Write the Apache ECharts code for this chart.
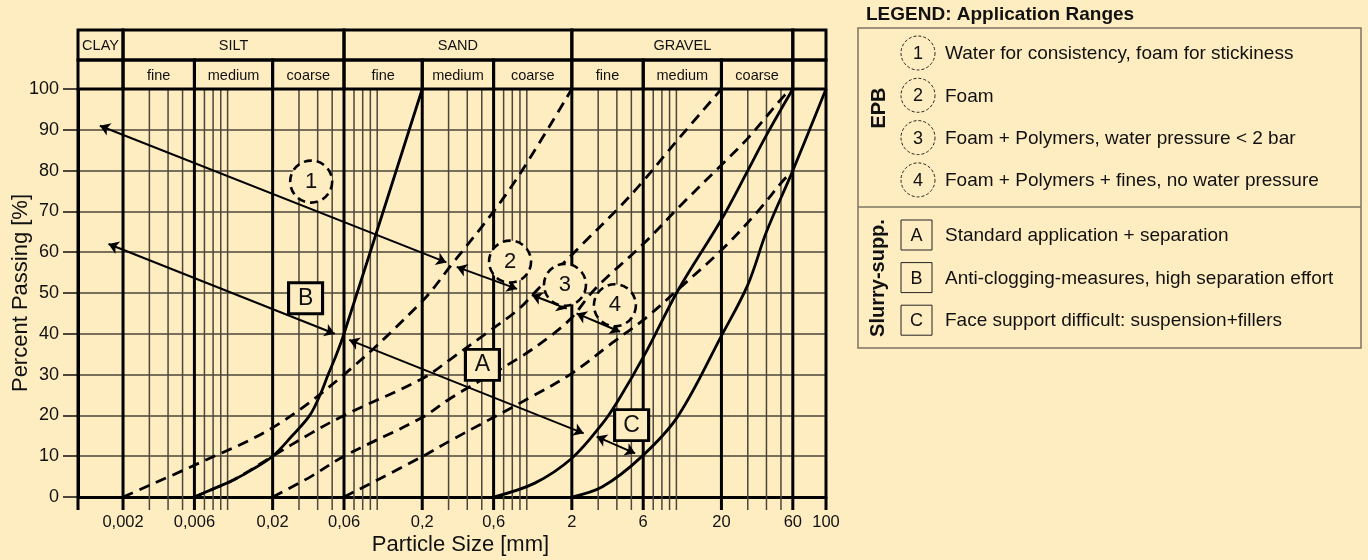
<!DOCTYPE html>
<html>
<head>
<meta charset="utf-8">
<script src="https://cdn.jsdelivr.net/npm/echarts@6/dist/echarts.min.js"></script>
<style>
html,body{margin:0;padding:0;background:#FFEDC2;}
#chart{width:1368px;height:560px;}
</style>
</head>
<body>
<div id="chart"></div>
<script>
// ---------- DATA ----------
// grading curves [particle size mm, percent passing]
const solidFine   = [[0.006,0],[0.0078,1.8],[0.0111,4.3],[0.0144,6.6],[0.02,10],[0.027,15],[0.0354,20],[0.0415,25],[0.047,30],[0.0535,35],[0.06,40],[0.2,100]];
const solidMid    = [[0.6,0],[1.13,3.4],[2,9.5],[3.2,18],[4.1,23.8],[6.2,35.2],[10.2,50.5],[20,68],[30,80],[40,88.7],[60,100]];
const solidCoarse = [[2,0],[3.2,2.5],[5.86,9.9],[10.2,19.7],[20,39.5],[30,52],[40,65],[60,80],[100,100]];
const dashed1     = [[0.002,0],[0.006,7.8],[0.02,17],[0.06,30],[0.2,48],[0.315,57],[0.6,70],[0.93,80],[2,100]];
const dashed2     = [[0.006,0],[0.0078,1.8],[0.0111,4.3],[0.02,10],[0.036,15.6],[0.06,20],[0.2,29],[0.315,34],[0.53,40],[0.88,46],[1.19,51],[2.45,62.6],[4.1,70.8],[5.8,76.8],[9.4,86],[20,100]];
const dashed3     = [[0.02,0],[0.036,5],[0.06,10],[0.2,19.5],[0.315,24.4],[0.88,34],[1.47,39.7],[2,44],[2.86,51],[6,62],[10.5,71.2],[20,81.4],[30,87.9],[53,98.5],[60,100]];
const dashed4     = [[0.06,0],[0.2,9.9],[0.315,14],[1.08,24.6],[2,30.3],[3.7,37.7],[6.2,43.8],[10.5,51.2],[20,60.5],[35,70],[53,78],[60,79.5]];

// double-headed arrows [from, to]
const arrows = [
  [[0.0014,91],[0.29,57.5]],
  [[0.34,56.4],[0.86,51]],
  [[1.08,49.5],[1.85,46.2]],
  [[2.15,45],[4.2,40.5]],
  [[0.0016,62],[0.052,40]],
  [[0.065,38.5],[2.4,15.6]],
  [[2.93,14.8],[5.3,10.7]]
];
// circled EPB markers [x, y, label]
const circleMarks = [[0.0362,77.3,'1'],[0.773,57.7,'2'],[1.8,52,'3'],[3.88,47,'4']];
// boxed slurry markers [x, y, label]
const boxMarks = [[0.505,32.4,'A'],[0.0332,48.7,'B'],[5.02,17.6,'C']];

// grid lines and axis labels
const majorX = [0.001,0.002,0.006,0.02,0.06,0.2,0.6,2,6,20,60,100];
const minorX = [0.003,0.004,0.005,0.007,0.008,0.009,0.01,
                0.03,0.04,0.05,0.07,0.08,0.09,0.1,
                0.3,0.4,0.5,0.7,0.8,0.9,1,
                3,4,5,7,8,9,10,
                30,40,50];
const xLabelVals  = [0.002,0.006,0.02,0.06,0.2,0.6,2,6,20,60,100];
const xLabelTexts = ['0,002','0,006','0,02','0,06','0,2','0,6','2','6','20','60','100'];

// soil classification header
const headerMain = [[0.001,0.002,'CLAY'],[0.002,0.06,'SILT'],[0.06,2,'SAND'],[2,60,'GRAVEL'],[60,100,'']];
const headerSub  = [[0.001,0.002,''],[0.002,0.006,'fine'],[0.006,0.02,'medium'],[0.02,0.06,'coarse'],
                    [0.06,0.2,'fine'],[0.2,0.6,'medium'],[0.6,2,'coarse'],
                    [2,6,'fine'],[6,20,'medium'],[20,60,'coarse'],[60,100,'']];

// legend
const legendTitle = 'LEGEND: Application Ranges';
const legendEPBLabel = 'EPB';
const legendSlurryLabel = 'Slurry-supp.';
const legendEPB = [['1','Water for consistency, foam for stickiness'],['2','Foam'],['3','Foam + Polymers, water pressure < 2 bar'],['4','Foam + Polymers + fines, no water pressure']];
const legendSlurry = [['A','Standard application + separation'],['B','Anti-clogging-measures, high separation effort'],['C','Face support difficult: suspension+fillers']];

// ---------- STYLE ----------
const FONT = '"Liberation Sans", Arial, Helvetica, sans-serif';
const BG = '#FFEDC2';
const INK = '#111';
const GRIDC = '#4d463a';

const chart = echarts.init(document.getElementById('chart'), null, {renderer:'canvas'});

function vlineRender(width, color){
  return function(params, api){
    const v = api.value(0);
    const top = api.coord([v,100]);
    const bot = api.coord([v,0]);
    return {type:'line', shape:{x1:top[0], y1:top[1], x2:bot[0], y2:bot[1]+13},
            style:{stroke:color, lineWidth:width}};
  };
}
function cellRender(rows){
  return function(params, api){
    const r = rows[params.dataIndex];
    const p0 = api.coord([r[0],1]);
    const p1 = api.coord([r[1],0]);
    return {type:'group', children:[
      {type:'rect', shape:{x:p0[0], y:p0[1], width:p1[0]-p0[0], height:p1[1]-p0[1]},
       style:{fill:'none', stroke:'#000', lineWidth:3}},
      {type:'text', style:{text:r[2], x:(p0[0]+p1[0])/2, y:(p0[1]+p1[1])/2+1, align:'center', verticalAlign:'middle',
        fontSize:14.5, fontFamily:FONT, fill:INK}}
    ]};
  };
}

function curve(data, dashed){
  return {type:'line', xAxisIndex:0, yAxisIndex:0, data:data, showSymbol:false, symbol:'none',
    smooth:0.35, z:5, silent:true,
    lineStyle:{color:'#000', width:2.8, type:dashed?[11,7]:'solid', cap:'butt'}};
}

// legend graphics
const g = [];
g.push({type:'text', x:866, y:15, style:{text:legendTitle, font:'bold 19px '+FONT, fill:INK, verticalAlign:'middle'}});
g.push({type:'rect', shape:{x:858, y:28, width:503, height:320}, style:{fill:'none', stroke:'#7d7461', lineWidth:1.5}});
g.push({type:'line', shape:{x1:858, y1:207, x2:1361, y2:207}, style:{stroke:'#7d7461', lineWidth:1.5}});
g.push({type:'text', x:879, y:108, rotation:Math.PI/2, style:{text:legendEPBLabel, font:'bold 20px '+FONT, fill:INK, align:'center', verticalAlign:'middle'}});
g.push({type:'text', x:878, y:278, rotation:Math.PI/2, style:{text:legendSlurryLabel, font:'bold 20px '+FONT, fill:INK, align:'center', verticalAlign:'middle'}});
legendEPB.forEach(function(it, i){
  const cy = 53 + i*42.3;
  g.push({type:'circle', shape:{cx:918, cy:cy, r:17}, style:{fill:'none', stroke:'#222', lineWidth:1, lineDash:[3,2]}});
  g.push({type:'text', x:918, y:cy+1, style:{text:it[0], font:'18px '+FONT, fill:INK, align:'center', verticalAlign:'middle'}});
  g.push({type:'text', x:945, y:cy+1, style:{text:it[1], font:'19px '+FONT, fill:INK, verticalAlign:'middle'}});
});
legendSlurry.forEach(function(it, i){
  const cy = 235 + i*42.6;
  g.push({type:'rect', shape:{x:901, y:cy-15, width:31, height:30}, style:{fill:'none', stroke:'#222', lineWidth:1}});
  g.push({type:'text', x:916.5, y:cy+1, style:{text:it[0], font:'18px '+FONT, fill:INK, align:'center', verticalAlign:'middle'}});
  g.push({type:'text', x:945, y:cy+1, style:{text:it[1], font:'19px '+FONT, fill:INK, verticalAlign:'middle'}});
});

const option = {
  backgroundColor: BG,
  animation: false,
  textStyle:{fontFamily:FONT},
  grid:[
    {left:78, top:89, width:748, height:408, containLabel:false, outerBoundsMode:'none'},
    {left:78, top:60, width:748, height:29, containLabel:false, outerBoundsMode:'none'},
    {left:78, top:30, width:748, height:30, containLabel:false, outerBoundsMode:'none'}
  ],
  xAxis:[
    {gridIndex:0, type:'log', logBase:10, min:0.001, max:100,
     axisLine:{show:true, onZero:false, lineStyle:{color:'#000', width:3}},
     axisTick:{show:false}, axisLabel:{show:false}, splitLine:{show:false},
     name:'Particle Size [mm]', nameLocation:'middle', nameGap:37, nameMoveOverlap:false,
     nameTextStyle:{fontSize:22, fontFamily:FONT, color:INK, padding:[0,0,0,17]}},
    {gridIndex:1, type:'log', logBase:10, min:0.001, max:100, show:false},
    {gridIndex:2, type:'log', logBase:10, min:0.001, max:100, show:false}
  ],
  yAxis:[
    {gridIndex:0, type:'value', min:0, max:100, interval:10,
     axisLine:{show:true, lineStyle:{color:'#000', width:3}},
     axisTick:{show:true, length:15, lineStyle:{color:GRIDC, width:2}},
     axisLabel:{fontSize:18, margin:19, color:INK, fontFamily:FONT},
     splitLine:{show:true, lineStyle:{color:GRIDC, width:1.5}},
     name:'Percent Passing [%]', nameLocation:'middle', nameGap:46, nameMoveOverlap:false,
     nameTextStyle:{fontSize:22, fontFamily:FONT, color:INK}},
    {gridIndex:1, type:'value', min:0, max:1, show:false},
    {gridIndex:2, type:'value', min:0, max:1, show:false}
  ],
  graphic: g,
  series:[
    {type:'custom', name:'minorGrid', xAxisIndex:0, yAxisIndex:0, clip:false, silent:true, z:1,
     data:minorX.map(function(v){return [v];}), encode:{x:0}, renderItem:vlineRender(1.5, GRIDC)},
    {type:'custom', name:'majorGrid', xAxisIndex:0, yAxisIndex:0, clip:false, silent:true, z:2,
     data:majorX.map(function(v){return [v];}), encode:{x:0}, renderItem:vlineRender(3, '#000')},
    {type:'custom', name:'xLabels', xAxisIndex:0, yAxisIndex:0, clip:false, silent:true, z:2,
     data:xLabelVals.map(function(v){return [v];}), encode:{x:0},
     renderItem:function(params, api){
       const p = api.coord([api.value(0),0]);
       return {type:'text', style:{text:xLabelTexts[params.dataIndex], x:p[0], y:p[1]+25, align:'center', verticalAlign:'middle',
         fontSize:16.5, fontFamily:FONT, fill:INK}};
     }},
    {type:'custom', name:'headerMain', xAxisIndex:2, yAxisIndex:2, clip:false, silent:true, z:3,
     data:headerMain.map(function(r){return [r[0],r[1]];}), encode:{x:[0,1]}, renderItem:cellRender(headerMain)},
    {type:'custom', name:'headerSub', xAxisIndex:1, yAxisIndex:1, clip:false, silent:true, z:3,
     data:headerSub.map(function(r){return [r[0],r[1]];}), encode:{x:[0,1]}, renderItem:cellRender(headerSub)},
    curve(solidFine,false), curve(solidMid,false), curve(solidCoarse,false),
    curve(dashed1,true), curve(dashed2,true), curve(dashed3,true), curve(dashed4,true),
    {type:'lines', coordinateSystem:'cartesian2d', xAxisIndex:0, yAxisIndex:0, z:6, silent:true,
     symbol:['arrow','arrow'], symbolSize:10,
     lineStyle:{color:'#000', width:2, opacity:1, curveness:0},
     data:arrows.map(function(a){return {coords:a};})},
    {type:'scatter', xAxisIndex:0, yAxisIndex:0, z:7, silent:true, symbol:'circle', symbolSize:42,
     itemStyle:{color:BG, borderColor:'#000', borderWidth:2.6, borderType:[8,5], opacity:1},
     label:{show:true, position:'inside', fontSize:22, fontFamily:FONT, color:INK,
       formatter:function(p){return circleMarks[p.dataIndex][2];}},
     data:circleMarks.map(function(c){return [c[0],c[1]];})},
    {type:'scatter', xAxisIndex:0, yAxisIndex:0, z:7, silent:true, symbol:'rect', symbolSize:[34,31],
     itemStyle:{color:BG, borderColor:'#000', borderWidth:3, opacity:1},
     label:{show:true, position:'inside', fontSize:23, fontFamily:FONT, color:INK,
       formatter:function(p){return boxMarks[p.dataIndex][2];}},
     data:boxMarks.map(function(c){return [c[0],c[1]];})}
  ]
};
chart.setOption(option);
</script>
</body>
</html>
